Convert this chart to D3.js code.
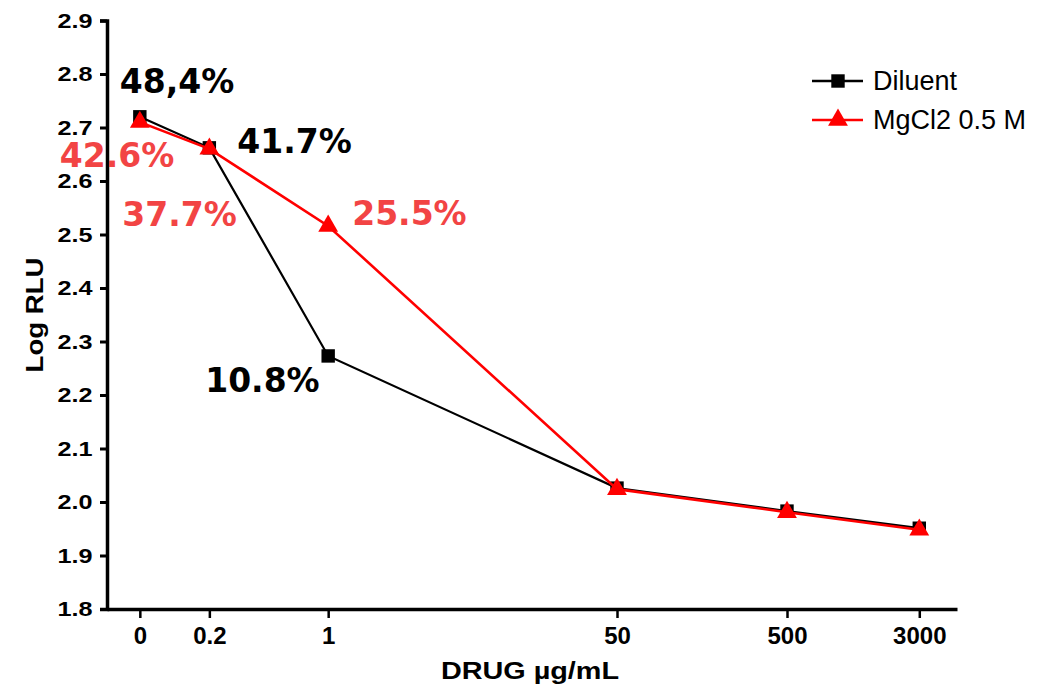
<!DOCTYPE html>
<html>
<head>
<meta charset="utf-8">
<script src="https://cdn.jsdelivr.net/npm/d3@7/dist/d3.min.js"></script>
<style>
  html, body { margin: 0; padding: 0; background: #fff; }
  svg { display: block; }
</style>
</head>
<body>
<svg id="chart" width="1056" height="691"></svg>
<script>
// Dose levels (µg/mL); the zero dose sits left of 0.2 on the log axis
const doses = [0, 0.2, 1, 50, 500, 3000];
const doseLabels = ["0", "0.2", "1", "50", "500", "3000"];
const zeroDosePosition = 0.078;

// Log RLU per dose
const diluent = [2.720, 2.662, 2.273, 2.026, 1.983, 1.951];
const mgcl2 = [2.710, 2.660, 2.516, 2.024, 1.981, 1.948];

const yTicks = [1.8, 1.9, 2.0, 2.1, 2.2, 2.3, 2.4, 2.5, 2.6, 2.7, 2.8, 2.9];

// Percent annotations per series (dose index, text)
const diluentNotes = [
  { i: 0, text: "48,4%" },
  { i: 1, text: "41.7%" },
  { i: 2, text: "10.8%" }
];
const mgcl2Notes = [
  { i: 0, text: "42.6%" },
  { i: 1, text: "37.7%" },
  { i: 2, text: "25.5%" }
];

const svg = d3.select("#chart");

const x = d3.scaleLog().domain([0.05, 5000]).range([107, 957]);
const y = d3.scaleLinear().domain([1.8, 2.9]).range([609, 20.5]);
const xPos = d => x(d === 0 ? zeroDosePosition : d);

const axisFont = "Arial, 'Liberation Sans', sans-serif";

// Y axis
const yAxis = svg.append("g")
  .attr("transform", "translate(107,0)")
  .call(d3.axisLeft(y).tickValues(yTicks).tickFormat(d3.format(".1f")).tickSize(7).tickPadding(5));
yAxis.select(".domain").attr("stroke", "#000").attr("stroke-width", 3.5);
yAxis.selectAll(".tick line").attr("stroke", "#000").attr("stroke-width", 3);
yAxis.selectAll(".tick text")
  .attr("font-family", axisFont).attr("font-weight", "bold").attr("font-size", 21).attr("fill", "#000")
  .attr("transform", "scale(1.2,1)");

// X axis
const xAxis = svg.append("g")
  .attr("transform", "translate(0,609)")
  .call(d3.axisBottom(x).tickValues(doses.map(d => d === 0 ? zeroDosePosition : d))
    .tickFormat((d, i) => doseLabels[i]).tickSize(9).tickSizeOuter(0).tickPadding(9));
xAxis.select(".domain").attr("stroke", "#000").attr("stroke-width", 3.5);
xAxis.selectAll(".tick line").attr("stroke", "#000").attr("stroke-width", 2.5);
xAxis.selectAll(".tick text")
  .attr("font-family", axisFont).attr("font-weight", "bold").attr("font-size", 24).attr("fill", "#000");

// Axis titles
svg.append("text")
  .attr("transform", "translate(43,315) rotate(-90) scale(1.2,1)")
  .attr("text-anchor", "middle")
  .attr("font-family", axisFont).attr("font-weight", "bold").attr("font-size", 23)
  .text("Log RLU");
svg.append("text")
  .attr("transform", "translate(530,679) scale(1.2,1)")
  .attr("text-anchor", "middle")
  .attr("font-family", axisFont).attr("font-weight", "bold").attr("font-size", 24)
  .text("DRUG µg/mL");

const line = d3.line().x((d, i) => xPos(doses[i])).y(d => y(d));

const square = d3.symbol().type(d3.symbolSquare).size(180);
const triangle = d3.symbol().type(d3.symbolTriangle).size(170);

// Diluent series
svg.append("path").datum(diluent)
  .attr("d", line).attr("fill", "none").attr("stroke", "#000").attr("stroke-width", 2.2);
svg.append("g").selectAll("path").data(diluent).join("path")
  .attr("transform", (d, i) => `translate(${xPos(doses[i])},${y(d)})`)
  .attr("d", square).attr("fill", "#000");

// MgCl2 series
svg.append("path").datum(mgcl2)
  .attr("d", line).attr("fill", "none").attr("stroke", "#ff0000").attr("stroke-width", 2.6);
svg.append("g").selectAll("path").data(mgcl2).join("path")
  .attr("transform", (d, i) => `translate(${xPos(doses[i])},${y(d)})`)
  .attr("d", triangle).attr("fill", "#ff0000");

// Percent annotations, offset from their points
const noteFont = "'DejaVu Sans', Verdana, sans-serif";
const diluentOffsets = [[-20, -24], [28, 5], [-123, 36]];
const mgcl2Offsets = [[-80, 45], [-87, 77], [24, -1]];

svg.append("g").selectAll("text").data(diluentNotes).join("text")
  .attr("x", (d, k) => xPos(doses[d.i]) + diluentOffsets[k][0])
  .attr("y", (d, k) => y(diluent[d.i]) + diluentOffsets[k][1])
  .attr("font-family", noteFont).attr("font-weight", "bold").attr("font-size", 33)
  .attr("fill", "#000")
  .text(d => d.text);

svg.append("g").selectAll("text").data(mgcl2Notes).join("text")
  .attr("x", (d, k) => xPos(doses[d.i]) + mgcl2Offsets[k][0])
  .attr("y", (d, k) => y(mgcl2[d.i]) + mgcl2Offsets[k][1])
  .attr("font-family", noteFont).attr("font-weight", "bold").attr("font-size", 33)
  .attr("fill", "#f24444")
  .text(d => d.text);

// Legend
const legend = svg.append("g").attr("transform", "translate(812,0)");
const legendItems = [
  { name: "Diluent", color: "#000", sym: square, yy: 81 },
  { name: "MgCl2 0.5 M", color: "#ff0000", sym: triangle, yy: 120 }
];
legendItems.forEach(it => {
  legend.append("line").attr("x1", 0).attr("x2", 51).attr("y1", it.yy).attr("y2", it.yy)
    .attr("stroke", it.color).attr("stroke-width", 2.5);
  legend.append("path").attr("transform", `translate(26,${it.yy})`).attr("d", it.sym).attr("fill", it.color);
  legend.append("text").attr("x", 61).attr("y", it.yy + 9)
    .attr("font-family", axisFont).attr("font-size", 27).attr("fill", "#000")
    .text(it.name);
});
</script>
</body>
</html>
